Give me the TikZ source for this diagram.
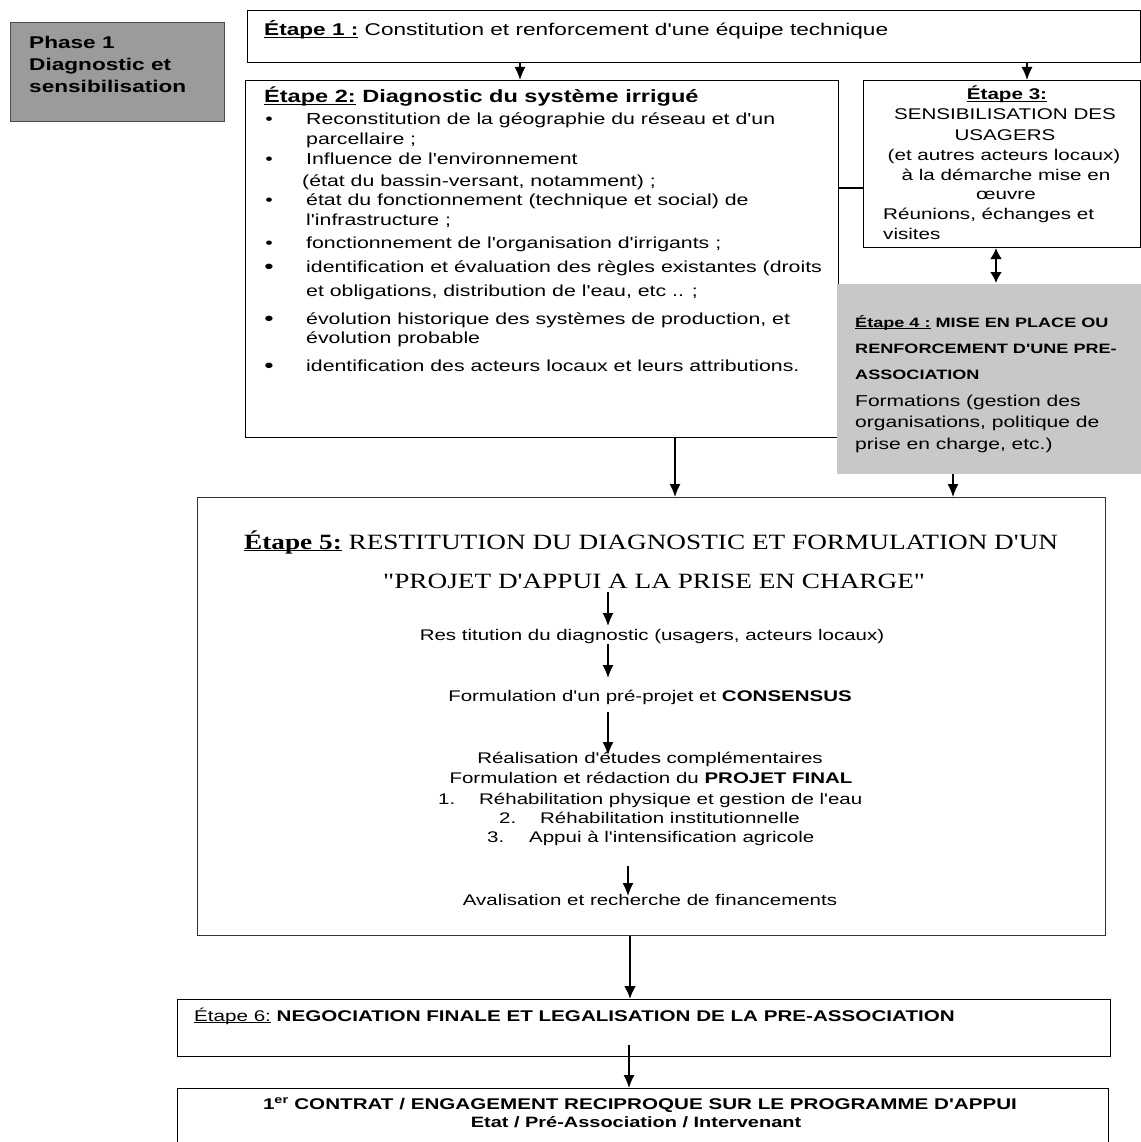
\documentclass[tikz,border=0pt]{standalone}
\usepackage{fontspec}
\setmainfont{Liberation Sans}[FakeStretch=1.33, Ligatures=TeXOff]
\newfontfamily\timesst{Liberation Serif}[FakeStretch=1.25, Ligatures=TeXOff]
\usetikzlibrary{arrows.meta}
\definecolor{phasefill}{HTML}{9B9B9B}
\definecolor{etapefill}{HTML}{C8C8C8}
% underline sitting just under the baseline
\newsavebox{\etulbox}
\newcommand{\etul}[1]{\sbox{\etulbox}{#1}\rlap{\rule[-2pt]{\wd\etulbox}{1.1pt}}\usebox{\etulbox}}
\begin{document}
\begin{tikzpicture}[x=1pt,y=-1pt,
  box/.style={draw=black, line width=1pt, inner sep=0pt, anchor=north west},
  ln/.style={inner sep=0pt, anchor=base west, font=\fontsize{16}{19}\selectfont},
  lnc/.style={inner sep=0pt, anchor=base, font=\fontsize{16}{19}\selectfont},
  s3/.style={font=\fontsize{15.5}{19}\selectfont},
  s5/.style={font=\fontsize{15.4}{19}\selectfont},
  bul/.style={inner sep=0pt, anchor=base, font=\fontsize{16}{19}\selectfont},
  bigbul/.style={bul, font=\fontsize{20}{20}\selectfont},
  arr/.style={line width=1.3pt, -{Latex[length=13pt,width=11pt]}},
  tarr/.style={line width=2.4pt, -{Latex[length=13pt,width=12pt]}},
  darr/.style={line width=2.4pt, {Latex[length=11pt,width=12pt]}-{Latex[length=11pt,width=12pt]}},
  link/.style={line width=1pt}
]
\useasboundingbox (0,0) rectangle (1140,1142);

% Phase label
\node[box, draw=black!70, fill=phasefill, minimum width=214pt, minimum height=99pt] (ph) at (10,22) {};
\node[ln, font=\fontsize{17}{22}\bfseries] (ph1) at (29,49) {Phase 1};
\node[ln, font=\fontsize{17}{22}\bfseries] (ph2) at (29,71) {Diagnostic et};
\node[ln, font=\fontsize{17}{22}\bfseries] (ph3) at (29,93) {sensibilisation};

% Step 1
\node[box, minimum width=893pt, minimum height=52pt] (e1) at (247,10) {};
\node[ln, font=\fontsize{17}{22}\selectfont] (e1t) at (264,36) {\etul{\textbf{Étape 1 :}} Constitution et renforcement d'une équipe technique};

% Step 2
\node[box, minimum width=593pt, minimum height=357pt] (e2) at (245,80) {};
\node[ln, font=\fontsize{17.7}{22}\bfseries] (e2t) at (264,103) {\etul{Étape 2:} Diagnostic du système irrigué};
\node[bul] (b1) at (269,125) {\textbullet};
\node[ln] (l1) at (306,125) {Reconstitution de la géographie du réseau et d'un};
\node[ln] (l2) at (306,145) {parcellaire ;};
\node[bul] (b2) at (269,165) {\textbullet};
\node[ln] (l3) at (306,165) {Influence de l'environnement};
\node[ln] (l4) at (302,186) {(état du bassin-versant, notamment) ;};
\node[bul] (b3) at (269,205) {\textbullet};
\node[ln] (l5) at (306,205) {état du fonctionnement (technique et social) de};
\node[ln] (l6) at (306,225) {l'infrastructure ;};
\node[bul] (b4) at (269,248) {\textbullet};
\node[ln] (l7) at (306,248) {fonctionnement de l'organisation d'irrigants ;};
\node[bigbul] (b5) at (269,273) {\textbullet};
\node[ln] (l8) at (306,272) {identification et évaluation des règles existantes (droits};
\node[ln] (l9) at (306,296) {et obligations, distribution de l'eau, etc .. ;};
\node[bigbul] (b6) at (269,325) {\textbullet};
\node[ln] (l10) at (306,324) {évolution historique des systèmes de production, et};
\node[ln] (l11) at (306,343) {évolution probable};
\node[bigbul] (b7) at (269,372) {\textbullet};
\node[ln] (l12) at (306,371) {identification des acteurs locaux et leurs attributions.};

% Step 3
\node[box, minimum width=277pt, minimum height=167pt] (e3) at (863,80) {};
\node[lnc, s3] (e3a) at (1007,100) {\etul{\textbf{Étape 3:}}};
\node[lnc, s3] (e3b) at (1005,120) {SENSIBILISATION DES};
\node[lnc, s3] (e3c) at (1005,141) {USAGERS};
\node[lnc, s3] (e3d) at (1004,161) {(et autres acteurs locaux)};
\node[lnc, s3] (e3e) at (1006,181) {à la démarche mise en};
\node[lnc, s3] (e3f) at (1006,199) {œuvre};
\node[ln, s3] (e3g) at (883,219) {Réunions, échanges et};
\node[ln, s3] (e3h) at (883,239) {visites};

% Step 4
\node[box, draw=none, fill=etapefill, minimum width=304pt, minimum height=190pt] (e4) at (836,283) {};
\node[ln, font=\fontsize{13.6}{18}\bfseries] (e4a) at (855,327) {\etul{Étape 4 :} MISE EN PLACE OU};
\node[ln, font=\fontsize{13.6}{18}\bfseries] (e4b) at (855,353) {RENFORCEMENT D'UNE PRE-};
\node[ln, font=\fontsize{13.6}{18}\bfseries] (e4c) at (855,379) {ASSOCIATION};
\node[ln, font=\fontsize{15.8}{19}\selectfont] (e4d) at (855,406) {Formations (gestion des};
\node[ln, font=\fontsize{15.8}{19}\selectfont] (e4e) at (855,427) {organisations, politique de};
\node[ln, font=\fontsize{15.8}{19}\selectfont] (e4f) at (855,449) {prise en charge, etc.)};

% Step 5
\node[box, draw=black!80, minimum width=908pt, minimum height=438pt] (e5) at (197,497) {};
\node[ln, font=\fontsize{21.8}{26}\timesst] (e5a) at (244,549) {\etul{\textbf{Étape 5:}} RESTITUTION DU DIAGNOSTIC ET FORMULATION D'UN};
\node[ln, font=\fontsize{21.8}{26}\timesst] (e5b) at (383,588) {"PROJET D'APPUI A LA PRISE EN CHARGE"};
\node[lnc, s5] (s1) at (652,640) {Res titution du diagnostic (usagers, acteurs locaux)};
\node[lnc, s5] (s2) at (650,701) {Formulation d'un pré-projet et \textbf{CONSENSUS}};
\node[lnc, s5] (s3) at (650,763) {Réalisation d'études complémentaires};
\node[lnc, s5] (s4) at (651,783) {Formulation et rédaction du \textbf{PROJET FINAL}};
\node[ln, s5] (s5) at (438,804) {\makebox[41pt][l]{1.}Réhabilitation physique et gestion de l'eau};
\node[ln, s5] (s6) at (499,823) {\makebox[41pt][l]{2.}Réhabilitation institutionnelle};
\node[ln, s5] (s7) at (487,842) {\makebox[42pt][l]{3.}Appui à l'intensification agricole};
\node[lnc, s5] (s8) at (650,905) {Avalisation et recherche de financements};

% Step 6
\node[box, minimum width=933pt, minimum height=57pt] (e6) at (177,999) {};
\node[ln, font=\fontsize{15.5}{19}\selectfont] (e6t) at (194,1021) {\etul{Étape 6:} \textbf{NEGOCIATION FINALE ET LEGALISATION DE LA PRE-ASSOCIATION}};

% Contract
\node[box, minimum width=931pt, minimum height=70pt] (e7) at (177,1088) {};
\node[lnc, font=\fontsize{15.5}{18}\bfseries] (e7a) at (640,1109) {1\textsuperscript{er} CONTRAT / ENGAGEMENT RECIPROQUE SUR LE PROGRAMME D'APPUI};
\node[lnc, font=\fontsize{15}{18}\bfseries] (e7b) at (636,1127) {Etat / Pré-Association / Intervenant};

% connector positions
\coordinate (x1) at (520,0);
\coordinate (x2) at (1027,0);
\coordinate (x3) at (996,0);
\coordinate (x4) at (675,0);
\coordinate (x5) at (953,0);
\coordinate (x6) at (630,0);
\coordinate (lk) at (850,188);
\coordinate (i1a) at (608,592);
\coordinate (i1b) at (608,626);
\coordinate (i2a) at (608,644);
\coordinate (i2b) at (608,678);
\coordinate (i3a) at (608,712);
\coordinate (i3b) at (608,755);
\coordinate (i4a) at (628,866);
\coordinate (i4b) at (628,896);
\coordinate (i5a) at (629,1045);

\draw[arr] (x1 |- e1.south) -- (x1 |- e2.north);
\draw[arr] (x2 |- e1.south) -- (x2 |- e3.north);
\draw[link] (e2.east |- lk) -- (e3.west |- lk);
\draw[darr] (x3 |- e3.south) -- (x3 |- e4.north);
\draw[arr] (x4 |- e2.south) -- (x4 |- e5.north);
\draw[arr] (x5 |- e4.south) -- (x5 |- e5.north);
\draw[arr] (i1a) -- (i1b);
\draw[arr] (i2a) -- (i2b);
\draw[arr] (i3a) -- (i3b);
\draw[arr] (i4a) -- (i4b);
\draw[tarr] (x6 |- e5.south) -- (x6 |- e6.north);
\draw[arr] (i5a) -- (i5a |- e7.north);
\end{tikzpicture}
\end{document}
